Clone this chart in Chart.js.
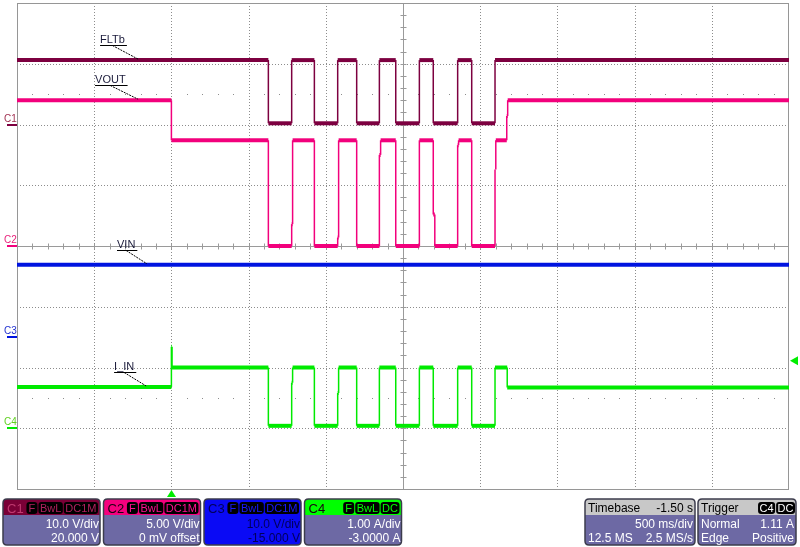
<!DOCTYPE html>
<html>
<head>
<meta charset="utf-8">
<script src="https://cdn.jsdelivr.net/npm/chart.js@4.4.1/dist/chart.umd.min.js"></script>
<style>
body { margin: 0; background: #fff; }
canvas { display: block; }
</style>
</head>
<body>
<canvas id="scopeChart" width="800" height="547"></canvas>
<script>
// time in seconds, trigger at 0, 500 ms/div over 10 divisions
var timeStart = -1.0
var timeEnd = 4.0
var timeDiv = 0.5

// channels: C1 FLTb, C2 VOUT, C3 VIN, C4 I_IN
var channelNames = ['C1', 'C2', 'C3', 'C4']
var channelPerDiv = [10, 5, 10, 1]
var channelOffset = [20, 0, -15, -3]
var channelScaleText = ['10.0 V/div', '5.00 V/div', '10.0 V/div', '1.00 A/div']
var channelOffsetText = ['20.000 V', '0 mV offset', '-15.000 V', '-3.0000 A']
var channelTags = [['F', 'BwL', 'DC1M'], ['F', 'BwL', 'DC1M'], ['F', 'BwL', 'DC1M'], ['F', 'BwL', 'DC']]

// each trace: time where the level changes, level after the change
var fltbTimes = [-1, 0.628, 0.779, 0.926, 1.077, 1.200, 1.347, 1.453, 1.606, 1.696, 1.854, 1.945, 2.096]
var fltbVolts = [10.6, 0.2, 10.6, 0.2, 10.6, 0.2, 10.6, 0.2, 10.6, 0.2, 10.6, 0.2, 10.6]

var voutTimes = [-1, 0, 0.628, 0.779, 0.785, 0.926, 1.077, 1.083, 1.200, 1.347, 1.355, 1.453, 1.606, 1.696, 1.706, 1.854, 1.860, 1.945, 2.096, 2.101, 2.172, 2.178]
var voutVolts = [12.0, 8.7, 0, 1.8, 8.7, 0, 0.7, 8.7, 0, 7.5, 8.7, 0, 8.7, 2.6, 0, 8.3, 8.7, 0, 6.3, 8.7, 10.7, 12.0]

var vinTimes = [-1]
var vinVolts = [11.9]

var iinTimes = [-1, 0, 0.004, 0.628, 0.779, 0.785, 0.926, 1.077, 1.083, 1.200, 1.347, 1.453, 1.606, 1.696, 1.854, 1.945, 2.096, 2.175]
var iinAmps = [0.68, 1.34, 1.0, 0.04, 0.75, 1.0, 0.04, 0.58, 1.0, 0.04, 1.0, 0.04, 1.0, 0.04, 1.0, 0.04, 1.0, 0.67]

var triggerTime = 0
var triggerLevel = 1.11

var traceColors = ['#7d0040', '#f2007c', '#0014e0', '#00ea00']
var headColors = ['#7a0036', '#f5007e', '#0a0af5', '#00ff00']
var tagTextColors = ['#b0205e', '#ff1090', '#1a1aff', '#00ff00']
var labelColors = ['#a03050', '#e8207a', '#2030d0', '#60d020']

// annotation labels: anchored on the trace at time t
var traceLabels = [
    { text: 'FLTb', ch: 0, t: -0.216, v: 10.6, dx: -38 },
    { text: 'VOUT', ch: 1, t: -0.216, v: 12.0, dx: -43 },
    { text: 'VIN', ch: 2, t: -0.158, v: 11.9, dx: -30 },
    { text: 'I_IN', ch: 3, t: -0.164, v: 0.68, dx: -32 }
]

function toDiv(value, ch) {
    return (value + channelOffset[ch]) / channelPerDiv[ch]
}

function stepPoints(times, values, ch) {
    var pts = []
    var prev = null
    for (var i = 0; i < times.length; i++) {
        var y = toDiv(values[i], ch)
        if (prev !== null) pts.push({ x: times[i], y: prev })
        pts.push({ x: times[i], y: y })
        prev = y
    }
    pts.push({ x: timeEnd, y: prev })
    return pts
}

function traceSet(label, pts, ch) {
    return {
        label: label,
        data: pts,
        borderColor: traceColors[ch],
        borderWidth: 4,
        pointRadius: 0,
        borderCapStyle: 'butt',
        segment: {
            borderWidth: function(c) { return c.p0.parsed.x === c.p1.parsed.x ? 1.5 : 4 }
        }
    }
}

var FONT = '"Liberation Sans", Arial, sans-serif'

function rrect(ctx, x, y, w, h, r) {
    ctx.beginPath()
    ctx.moveTo(x + r, y)
    ctx.lineTo(x + w - r, y)
    ctx.quadraticCurveTo(x + w, y, x + w, y + r)
    ctx.lineTo(x + w, y + h - r)
    ctx.quadraticCurveTo(x + w, y + h, x + w - r, y + h)
    ctx.lineTo(x + r, y + h)
    ctx.quadraticCurveTo(x, y + h, x, y + h - r)
    ctx.lineTo(x, y + r)
    ctx.quadraticCurveTo(x, y, x + r, y)
    ctx.closePath()
}

function drawTags(ctx, tags, right, color) {
    ctx.font = '11px ' + FONT
    ctx.textAlign = 'center'
    ctx.textBaseline = 'alphabetic'
    var x = right
    for (var i = tags.length - 1; i >= 0; i--) {
        var w = Math.max(11, ctx.measureText(tags[i]).width + 3)
        x -= w
        ctx.fillStyle = '#000'
        rrect(ctx, x, 502, w, 12, 3)
        ctx.fill()
        ctx.fillStyle = color
        ctx.fillText(tags[i], x + w / 2, 512)
        x -= 1
    }
}

function drawPanel(ctx, x, w, headBg, bodyBg) {
    ctx.save()
    rrect(ctx, x, 499, w, 46, 4)
    ctx.fillStyle = bodyBg
    ctx.fill()
    ctx.save()
    ctx.clip()
    ctx.fillStyle = headBg
    ctx.fillRect(x, 499, w, 16)
    ctx.restore()
    rrect(ctx, x, 499, w, 46, 4)
    ctx.lineWidth = 1.5
    ctx.strokeStyle = '#3c3c4c'
    ctx.stroke()
    ctx.restore()
}

var scopePlugin = {
    id: 'scopeGrid',
    beforeDatasetsDraw: function(chart) {
        var ctx = chart.ctx
        var xs = chart.scales.x, ys = chart.scales.y
        var ca = chart.chartArea
        ctx.save()
        ctx.strokeStyle = '#8c8c8c'
        ctx.lineWidth = 1
        ctx.setLineDash([1, 2])
        for (var d = 1; d < 10; d++) {
            if (d === 5) continue
            var px = Math.round(xs.getPixelForValue(timeStart + d * timeDiv)) + 0.5
            ctx.beginPath(); ctx.moveTo(px, ca.top); ctx.lineTo(px, ca.bottom); ctx.stroke()
        }
        for (var v = -3; v <= 3; v++) {
            if (v === 0) continue
            var py = Math.round(ys.getPixelForValue(v)) + 0.5
            ctx.beginPath(); ctx.moveTo(ca.left, py); ctx.lineTo(ca.right, py); ctx.stroke()
        }
        ctx.setLineDash([])
        // minor dots on the +/-2.5 div rows
        ctx.fillStyle = '#8c8c8c'
        ;[2.5, -2.5].forEach(function(row) {
            var py = Math.round(ys.getPixelForValue(row))
            for (var k = 1; k < 50; k++) {
                if (k % 5 === 0) continue
                ctx.fillRect(Math.round(xs.getPixelForValue(timeStart + k * timeDiv / 5)), py, 1, 1)
            }
        })
        // centre cross with ticks
        ctx.strokeStyle = '#9a9a9a'
        var cx = Math.round(xs.getPixelForValue(timeStart + 5 * timeDiv)) + 0.5
        var cy = Math.round(ys.getPixelForValue(0)) + 0.5
        ctx.beginPath()
        ctx.moveTo(cx, ca.top); ctx.lineTo(cx, ca.bottom)
        ctx.moveTo(ca.left, cy); ctx.lineTo(ca.right, cy)
        for (var k = 1; k < 50; k++) {
            var tx = Math.round(xs.getPixelForValue(timeStart + k * timeDiv / 5)) + 0.5
            ctx.moveTo(tx, cy - 3); ctx.lineTo(tx, cy + 3)
        }
        for (var j = -19; j <= 19; j++) {
            var ty = Math.round(ys.getPixelForValue(j / 5)) + 0.5
            ctx.moveTo(cx - 3, ty); ctx.lineTo(cx + 3, ty)
        }
        ctx.stroke()
        ctx.strokeStyle = '#969696'
        ctx.strokeRect(ca.left + 0.5, ca.top + 0.5, ca.right - ca.left - 1, ca.bottom - ca.top)
        ctx.restore()
    },
    afterDatasetsDraw: function(chart) {
        var ctx = chart.ctx
        var xs = chart.scales.x, ys = chart.scales.y
        var ca = chart.chartArea
        ctx.save()

        // trace name labels with leader lines
        ctx.font = '11px ' + FONT
        ctx.textAlign = 'left'
        ctx.textBaseline = 'alphabetic'
        traceLabels.forEach(function(l) {
            var ax = xs.getPixelForValue(l.t)
            var ay = ys.getPixelForValue(toDiv(l.v, l.ch))
            var w = ctx.measureText(l.text).width
            var tx = ax + l.dx
            var uy = Math.round(ay - 15) + 0.5
            ctx.fillStyle = '#1a1a3a'
            ctx.fillText(l.text, tx, uy - 2.5)
            ctx.strokeStyle = '#000'
            ctx.lineWidth = 1
            ctx.setLineDash([])
            ctx.beginPath(); ctx.moveTo(tx, uy); ctx.lineTo(tx + w + 2, uy); ctx.stroke()
            ctx.setLineDash([2, 1])
            ctx.beginPath(); ctx.moveTo(tx + w * 0.5, uy); ctx.lineTo(ax, ay - 1); ctx.stroke()
            ctx.setLineDash([])
        })

        // channel ground markers on the left
        ctx.font = '10px ' + FONT
        for (var c = 0; c < 4; c++) {
            var gy = Math.round(ys.getPixelForValue(toDiv(0, c)))
            ctx.fillStyle = labelColors[c]
            ctx.fillText(channelNames[c], 4, gy - 3)
            ctx.fillStyle = traceColors[c]
            ctx.fillRect(7, gy - 1, 10, 2)
        }

        // trigger markers
        ctx.fillStyle = '#00ee00'
        var tpx = Math.round(xs.getPixelForValue(triggerTime)) + 0.5
        ctx.beginPath()
        ctx.moveTo(tpx, ca.bottom + 1); ctx.lineTo(tpx + 4.5, ca.bottom + 8); ctx.lineTo(tpx - 4.5, ca.bottom + 8)
        ctx.closePath(); ctx.fill()
        var tly = ys.getPixelForValue(toDiv(triggerLevel, 3))
        ctx.beginPath()
        ctx.moveTo(ca.right + 1, tly); ctx.lineTo(ca.right + 9, tly - 4.5); ctx.lineTo(ca.right + 9, tly + 4.5)
        ctx.closePath(); ctx.fill()

        // channel info panels
        var body = '#6d69a4'
        for (var i = 0; i < 4; i++) {
            var bx = 3 + i * 100.5
            var bw = 97
            var selected = i === 2
            drawPanel(ctx, bx, bw, headColors[i], selected ? '#0a0af5' : body)
            ctx.textAlign = 'left'
            ctx.font = '13px ' + FONT
            ctx.fillStyle = i === 0 ? '#c03a70' : (i === 2 ? '#00005a' : '#1a0010')
            ctx.fillText(channelNames[i], bx + 4, 513)
            drawTags(ctx, channelTags[i], bx + bw - 2, tagTextColors[i])
            ctx.save()
            rrect(ctx, bx, 499, bw, 46, 4)
            ctx.clip()
            ctx.font = '12px ' + FONT
            ctx.textAlign = 'right'
            ctx.fillStyle = selected ? '#00005a' : '#ffffff'
            ctx.fillText(channelScaleText[i], bx + bw - 1, 528)
            ctx.fillText(channelOffsetText[i], bx + bw - 1, 542)
            ctx.restore()
        }

        // timebase panel
        drawPanel(ctx, 585, 110, '#c8c8c8', body)
        ctx.font = '12px ' + FONT
        ctx.fillStyle = '#000'
        ctx.textAlign = 'left'
        ctx.fillText('Timebase', 588, 512)
        ctx.textAlign = 'right'
        ctx.fillText('-1.50 s', 693, 512)
        ctx.fillStyle = '#fff'
        ctx.fillText('500 ms/div', 693, 528)
        ctx.fillText('2.5 MS/s', 693, 542)
        ctx.textAlign = 'left'
        ctx.fillText('12.5 MS', 588, 542)

        // trigger panel
        drawPanel(ctx, 698, 98, '#c8c8c8', body)
        ctx.fillStyle = '#000'
        ctx.fillText('Trigger', 701, 512)
        drawTags(ctx, ['C4', 'DC'], 795, '#ffffff')
        ctx.font = '12px ' + FONT
        ctx.fillStyle = '#fff'
        ctx.textAlign = 'left'
        ctx.fillText('Normal', 701, 528)
        ctx.fillText('Edge', 701, 542)
        ctx.textAlign = 'right'
        ctx.fillText(triggerLevel.toFixed(2) + ' A', 794, 528)
        ctx.fillText('Positive', 794, 542)

        ctx.restore()
    }
}

var scopeChart = new Chart(document.getElementById('scopeChart'), {
    type: 'line',
    data: {
        datasets: [
            traceSet('FLTb', stepPoints(fltbTimes, fltbVolts, 0), 0),
            traceSet('VOUT', stepPoints(voutTimes, voutVolts, 1), 1),
            traceSet('VIN', stepPoints(vinTimes, vinVolts, 2), 2),
            traceSet('I_IN', stepPoints(iinTimes, iinAmps, 3), 3)
        ]
    },
    options: {
        responsive: false,
        animation: false,
        devicePixelRatio: 1,
        layout: { padding: { left: 17, right: 11, top: 3, bottom: 58 } },
        scales: {
            x: { type: 'linear', min: timeStart, max: timeEnd, display: false },
            y: { type: 'linear', min: -4, max: 4, display: false }
        },
        plugins: {
            legend: { display: false },
            tooltip: { enabled: false }
        }
    },
    plugins: [scopePlugin]
})
</script>
</body>
</html>
